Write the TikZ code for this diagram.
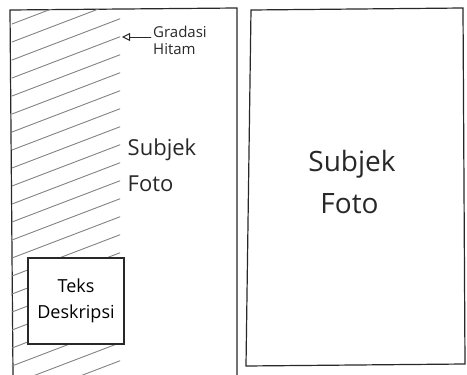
\documentclass[tikz,border=0pt]{standalone}
\usepackage{fontspec}
\setmainfont{Open Sans}
\usetikzlibrary{arrows.meta,positioning}
\definecolor{pencil}{RGB}{40,40,40}
\definecolor{hatch}{RGB}{130,130,130}

\begin{document}
\begin{tikzpicture}[x=0.5pt,y=-0.5pt,line cap=round,
          panel/.style={draw=pencil,line width=0.6pt},
          hatchline/.style={draw=hatch,line width=0.45pt},
          lbl/.style={align=left,text=pencil,inner sep=1pt},
          descbox/.style={draw=pencil,fill=white,line width=0.6pt,
                          minimum width=48pt,minimum height=43pt,align=center,
                          font=\fontsize{9}{13}\selectfont}]
        \useasboundingbox (0,0) rectangle (467,375);
        % left panel
        \draw[panel] (13,375) -- (10,10) -- (237,8) -- (237,375);
        % right panel
        \draw[panel] (251,10) -- (463,8) -- (465,364) -- (246,366) -- cycle;
        % hatching
        \begin{scope}
          \clip (11,9) rectangle (120,375);
          \foreach \y in {24,42,...,420}
            \draw[hatchline] (12,\y) -- (122,\y-42);
        \end{scope}
        \node[descbox] (d) at (76,301) {Teks\\Deskripsi};
        \node[lbl,font=\fontsize{7.5}{8.5}\selectfont] (g) at (180,40) {Gradasi\\Hitam};
        \coordinate (h) at (122,37);
        \draw[-{Triangle[open,length=4pt,width=4pt]},pencil,line width=0.5pt]
          (g.west |- h) -- (h);
        \node[lbl,font=\fontsize{11}{18}\selectfont] (s1) at (162,165) {Subjek\\Foto};
        \node[lbl,font=\fontsize{14}{21}\selectfont] (s2) at (352,182) {Subjek\\\hspace*{6pt}Foto};
      \end{tikzpicture}
\end{document}
